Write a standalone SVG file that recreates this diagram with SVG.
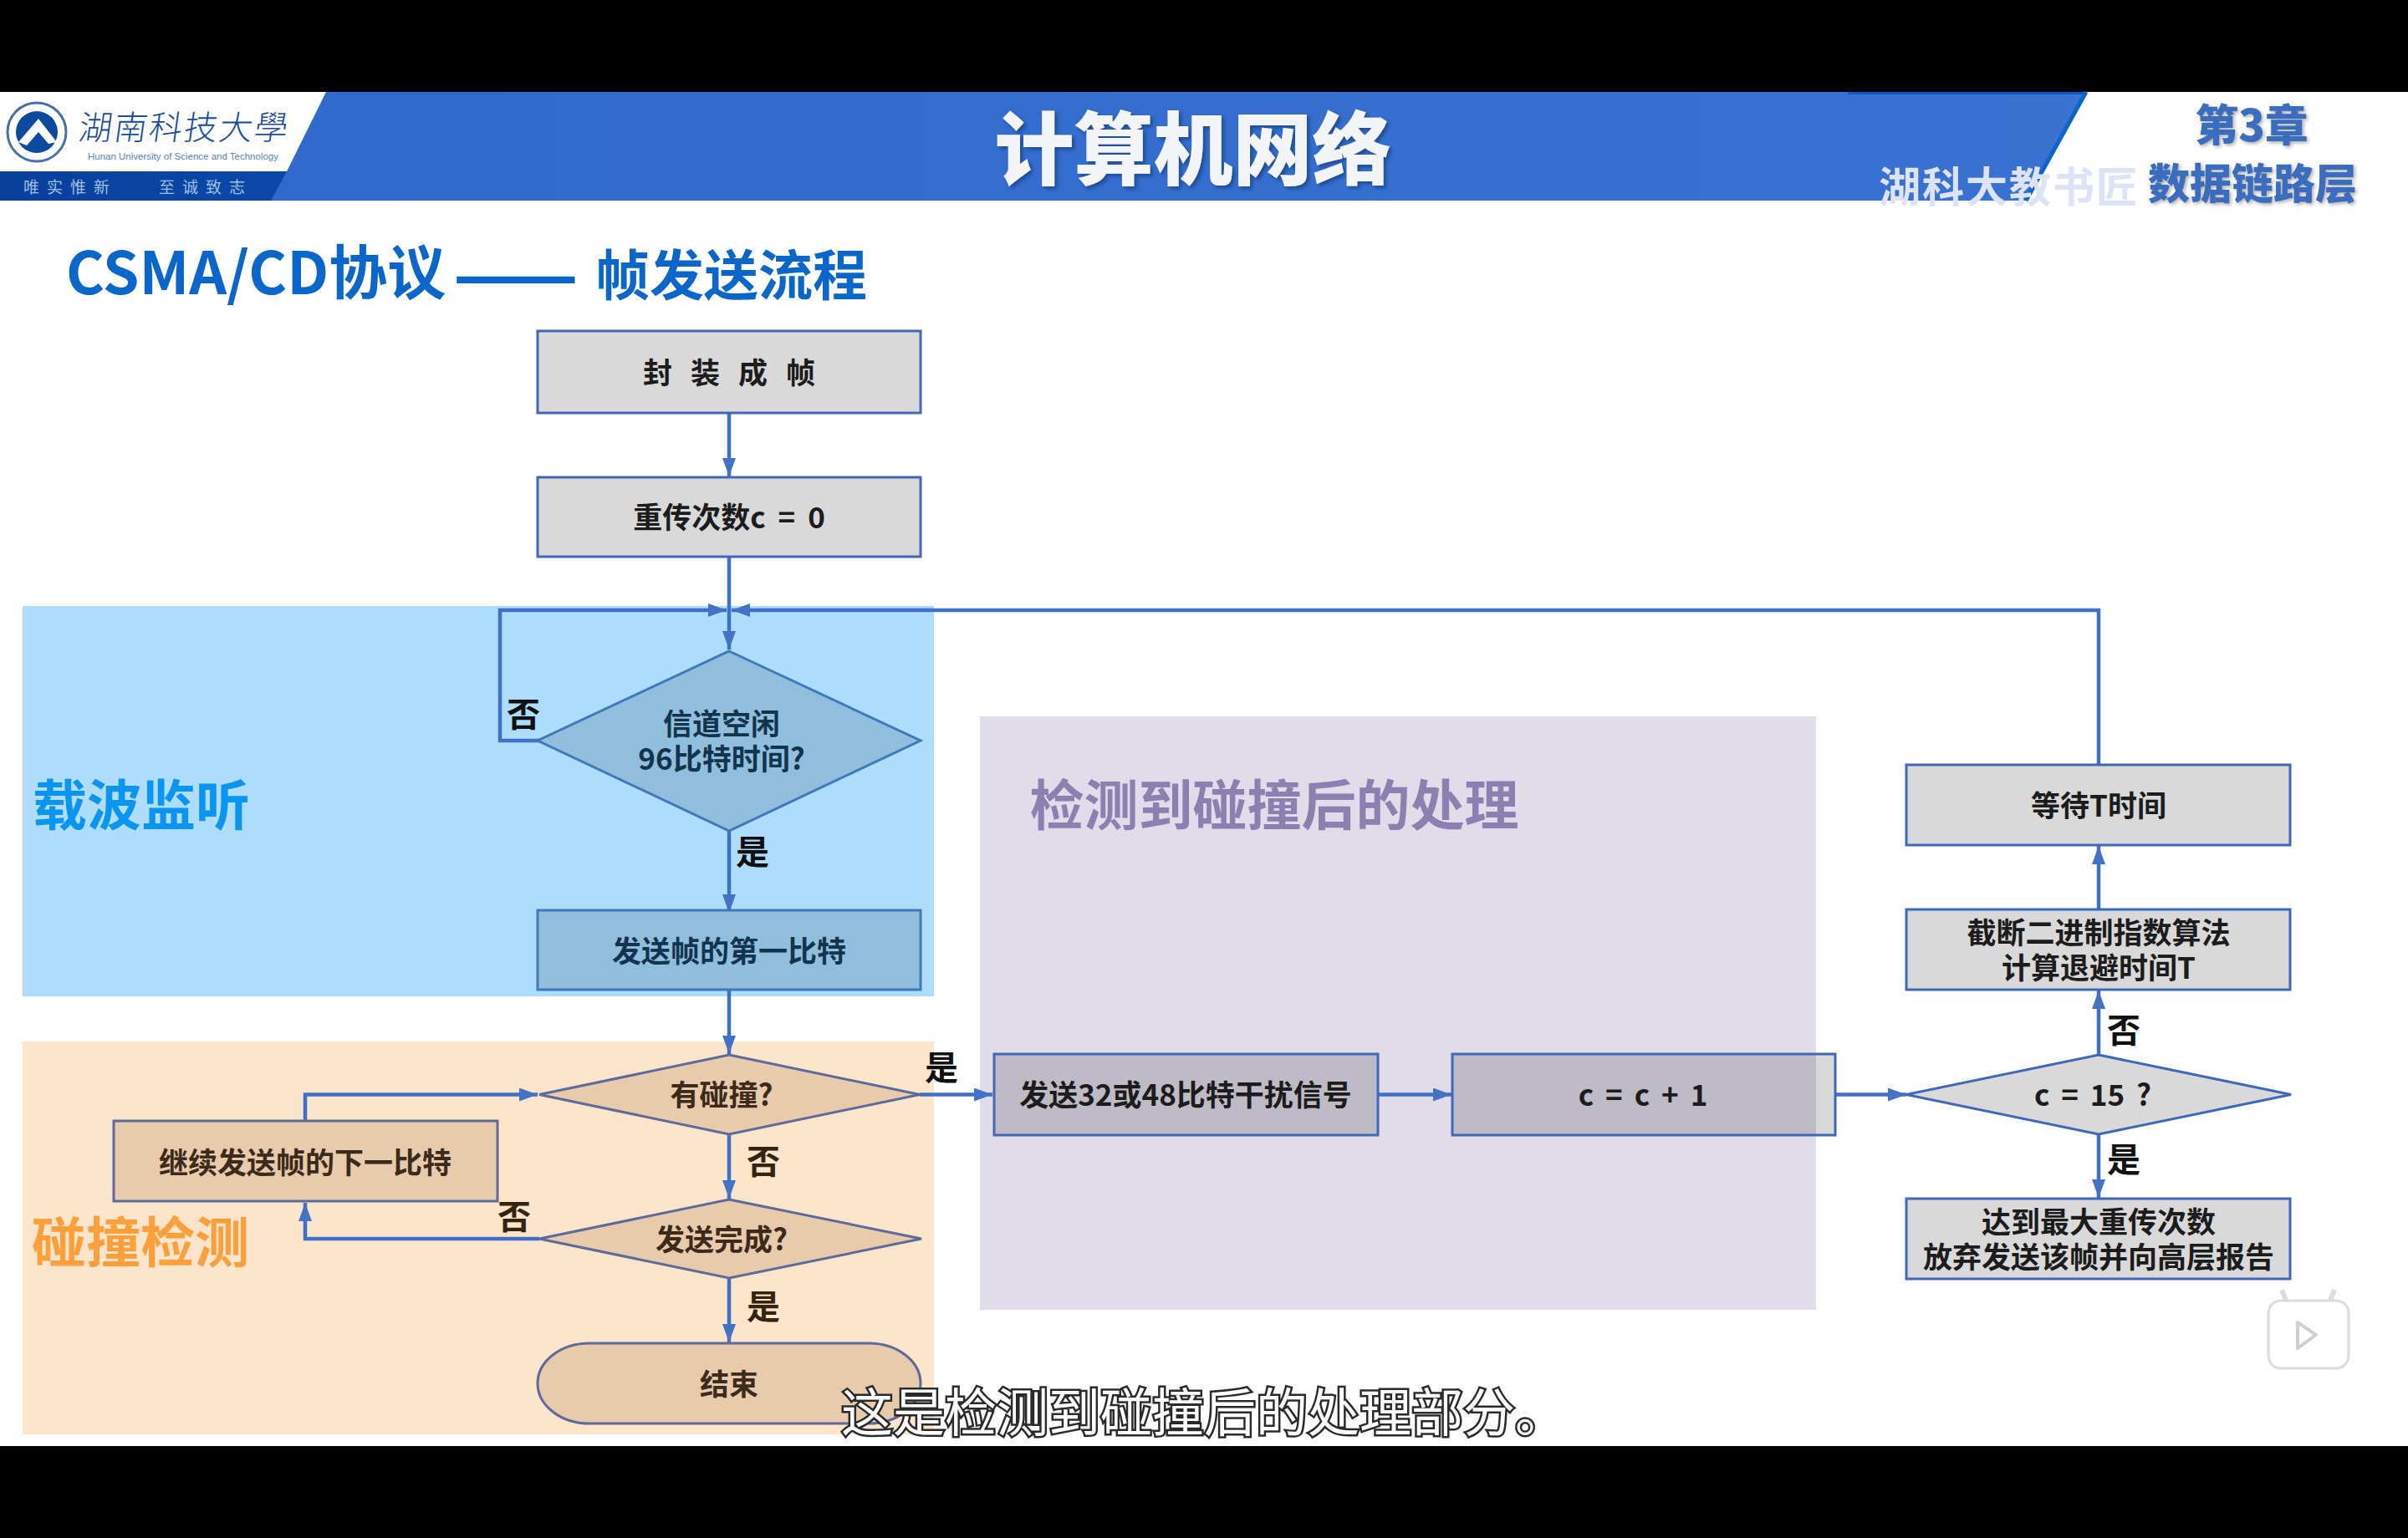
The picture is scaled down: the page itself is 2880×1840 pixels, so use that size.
<svg xmlns="http://www.w3.org/2000/svg" width="2880" height="1840" viewBox="0 0 2880 1840">
<defs>
<linearGradient id="hdr" x1="0" x2="1" y1="0" y2="0"><stop offset="0" stop-color="#2f68cc"/><stop offset="1" stop-color="#3a72d2"/></linearGradient>
<linearGradient id="band" x1="0" x2="1" y1="0" y2="0"><stop offset="0" stop-color="#0a3f9c"/><stop offset="1" stop-color="#0b49a8"/></linearGradient>
<marker id="ah" markerUnits="userSpaceOnUse" markerWidth="22" markerHeight="16" refX="22" refY="8" orient="auto"><path d="M0 0L22 8L0 16Z" fill="#4472c4"/></marker>
<filter id="sh" x="-10%" y="-20%" width="120%" height="140%"><feDropShadow dx="3" dy="3" stdDeviation="2" flood-color="#123a7a" flood-opacity=".7"/></filter>
<filter id="sg" x="-10%" y="-20%" width="120%" height="140%"><feDropShadow dx="2" dy="2" stdDeviation="2" flood-color="#8a8a8a" flood-opacity=".7"/></filter>
</defs>
<style>
text{font-family:"Noto Sans CJK SC","Noto Sans",sans-serif;text-anchor:middle;dominant-baseline:central}
.lbl{font-size:35px;font-weight:700;fill:#1c1c1c}
.ob{font-size:35px;font-weight:700;fill:#3d2a18}
.bb{font-size:35px;font-weight:700;fill:#12354f}
.yn{font-size:40px;font-weight:700;fill:#111}
.ynb{font-size:40px;font-weight:700;fill:#33230f}
.g{fill:#000;fill-opacity:.15;stroke:#3f68b8;stroke-width:3}
.b{fill:#91bedc;stroke:#3f78bc;stroke-width:3}
.o{fill:#e7cbac;stroke:#5d6a9a;stroke-width:3}
.c{fill:none;stroke:#3f6fc6;stroke-width:4.500;marker-end:url(#ah)}
.region{font-size:65px;font-weight:700}
#title{text-anchor:start;dominant-baseline:alphabetic;font-weight:700;fill:#0a66c8}
</style>
<rect width="2880" height="1840" fill="#fff"/>
<g id="letterbox"><rect width="2880" height="110" fill="#000"/><rect y="1730" width="2880" height="110" fill="#000"/></g>

<g id="header">
<path d="M0 110H2495L2423 240H0Z" fill="url(#hdr)"/>
<path d="M2495 110L2423 240" stroke="#0a66c8" stroke-width="5" fill="none"/>
<path d="M2210 111.500H2495" stroke="#0a5cc0" stroke-width="3"/>
<path d="M0 110H390L343 205H0Z" fill="#fff"/>
<path d="M0 205H343L324 240H0Z" fill="url(#band)"/>
<circle cx="44" cy="158" r="35" fill="#fff" stroke="#4a6ea8" stroke-width="3"/>
<circle cx="44" cy="158" r="25" fill="#0b4a9e"/>
<path d="M22 170L46 142L68 170L58 172L46 158L32 174Z" fill="#fff"/>
<text x="221" y="150" font-size="40" fill="#1a4d96" letter-spacing="2" transform="skewX(-8) translate(21 0)" style="font-weight:300">湖南科技大學</text>
<text x="219" y="187" font-size="11.500" fill="#5a7fb5" style="font-family:'Liberation Sans',sans-serif">Hunan University of Science and Technology</text>
<text x="84" y="222" font-size="19" fill="#9cc0e8" letter-spacing="9">唯实惟新</text>
<text x="246" y="222" font-size="19" fill="#9cc0e8" letter-spacing="9">至诚致志</text>
<text x="1427" y="172" font-size="95" font-weight="900" fill="#f2f4f8" filter="url(#sh)">计算机网络</text>
<text x="2403" y="220" font-size="50" font-weight="700" fill="#dbe3f4" letter-spacing="2">湖科大教书匠</text>
<text x="2693" y="146" font-size="52" font-weight="900" fill="#3a6dbe" filter="url(#sg)">第3章</text>
<text x="2694" y="216" font-size="50" font-weight="900" fill="#3a6dbe" filter="url(#sg)">数据链路层</text>
</g>

<text id="title" y="352" font-size="70"><tspan x="79">CSMA/CD协议</tspan><tspan x="542" y="360" font-size="88">——</tspan><tspan x="712" y="353" font-size="65">帧发送流程</tspan></text>

<g id="regions">
<rect x="27" y="725" width="1090" height="467" fill="#aedcfc"/>
<rect x="27" y="1246" width="1090" height="470" fill="#fde5cc"/>
<rect x="1172" y="857" width="1000" height="710" fill="#e0dcea"/>
<text class="region" x="169" y="959" fill="#0a96f0">载波监听</text>
<text class="region" x="168" y="1482" fill="#fd9f3a">碰撞检测</text>
<text class="region" x="1524" y="959" fill="#8d7fb0">检测到碰撞后的处理</text>
</g>

<g id="connectors">
<path class="c" d="M872 494V570"/>
<path class="c" d="M872 666V777"/>
<path class="c" d="M645 886H598V730H869"/>
<path class="c" d="M2510 915V730H875"/>
<path class="c" d="M872 994V1092"/>
<path class="c" d="M872 1185V1261"/>
<path class="c" d="M872 1357V1434"/>
<path class="c" d="M872 1529V1606"/>
<path class="c" d="M365 1341V1309.500H643"/>
<path class="c" d="M645 1482H365V1439"/>
<path class="c" d="M1100 1309.500H1187"/>
<path class="c" d="M1648 1309.500H1736"/>
<path class="c" d="M2195 1309.500H2280"/>
<path class="c" d="M2510 1262V1185"/>
<path class="c" d="M2510 1088V1012"/>
<path class="c" d="M2510 1357V1433"/>
</g>

<g id="n-frame"><rect class="g" x="643" y="396" width="458" height="98"/><text class="lbl" x="872" y="443" word-spacing="14">封 装 成 帧</text></g>
<g id="n-reset"><rect class="g" x="643" y="571" width="458" height="95"/><text class="lbl" x="872" y="616" word-spacing="7">重传次数c = 0</text></g>
<g id="n-idle"><path class="b" d="M872 779L1101 886L872 994L643 886Z"/><text class="bb" x="863"><tspan x="863" y="863">信道空闲</tspan><tspan x="863" y="905">96比特时间?</tspan></text></g>
<g id="n-first"><rect class="b" x="643" y="1089" width="458" height="95"/><text class="bb" x="872" y="1135">发送帧的第一比特</text></g>
<g id="n-collide"><path class="o" d="M872 1262L1100 1309.500L872 1357L645 1309.500Z"/><text class="ob" x="863" y="1307">有碰撞?</text></g>
<g id="n-done"><path class="o" d="M872 1435L1102 1482L872 1529L645 1482Z"/><text class="ob" x="863" y="1480">发送完成?</text></g>
<g id="n-next"><rect class="o" x="136" y="1341" width="459" height="96"/><text class="ob" x="365" y="1388">继续发送帧的下一比特</text></g>
<g id="n-end"><rect class="o" x="643" y="1607" width="458" height="96" rx="62" ry="48"/><text class="ob" x="872" y="1653">结束</text></g>
<g id="n-jam"><rect class="g" x="1189" y="1261" width="459" height="97"/><text class="lbl" x="1418" y="1307">发送32或48比特干扰信号</text></g>
<g id="n-inc"><rect class="g" x="1737" y="1261" width="458" height="97"/><text class="lbl" x="1965" y="1307" word-spacing="6">c = c + 1</text></g>
<g id="n-max"><path class="g" d="M2510 1262L2740 1309.500L2510 1357L2280 1309.500Z"/><text class="lbl" x="2503" y="1307" word-spacing="6">c = 15 ?</text></g>
<g id="n-wait"><rect class="g" x="2280" y="915" width="459" height="96"/><text class="lbl" x="2510" y="961">等待T时间</text></g>
<g id="n-backoff"><rect class="g" x="2280" y="1088" width="459" height="96"/><text class="lbl" x="2510"><tspan x="2510" y="1113">截断二进制指数算法</tspan><tspan x="2510" y="1155">计算退避时间T</tspan></text></g>
<g id="n-abort"><rect class="g" x="2280" y="1434" width="459" height="96"/><text class="lbl" x="2510"><tspan x="2510" y="1459">达到最大重传次数</tspan><tspan x="2510" y="1501">放弃发送该帧并向高层报告</tspan></text></g>

<g id="branch-labels">
<text class="yn" x="626" y="852">否</text>
<text class="yn" x="900" y="1017">是</text>
<text class="yn" x="1126" y="1275">是</text>
<text class="ynb" x="913" y="1387">否</text>
<text class="ynb" x="615" y="1453">否</text>
<text class="ynb" x="913" y="1561">是</text>
<text class="yn" x="2540" y="1230">否</text>
<text class="yn" x="2540" y="1385">是</text>
</g>

<g id="play-badge">
<path d="M2735 1558L2729 1543M2786 1558L2792 1543" stroke="#dcdcdc" stroke-width="6" fill="none"/>
<rect x="2713" y="1556" width="96" height="81" rx="15" fill="#fff" stroke="#dcdcdc" stroke-width="3"/>
<path d="M2748 1582L2770 1597L2748 1613Z" fill="#fff" stroke="#cfcfcf" stroke-width="4" stroke-linejoin="round"/>
</g>

<text id="caption" x="1440" y="1686" font-size="62" fill="#fff" stroke="#2a2a2a" stroke-width="5" style="paint-order:stroke">这是检测到碰撞后的处理部分。</text>
</svg>
